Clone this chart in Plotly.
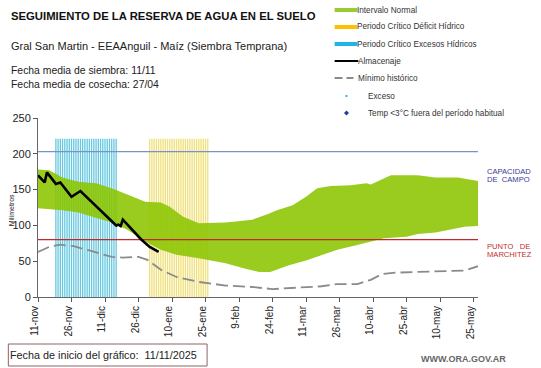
import plotly.graph_objects as go
import pandas as pd

# ---------------- data ----------------
band_upper_dates = ["2025-11-11", "2025-11-16", "2025-11-22", "2025-11-29", "2025-12-07", "2025-12-14",
                    "2025-12-21", "2025-12-29", "2026-01-05", "2026-01-09", "2026-01-15", "2026-01-22",
                    "2026-02-03", "2026-02-15", "2026-02-22", "2026-02-26", "2026-03-05", "2026-03-11",
                    "2026-03-16", "2026-03-22", "2026-03-31", "2026-04-07", "2026-04-09", "2026-04-18",
                    "2026-04-24", "2026-04-30", "2026-05-08", "2026-05-18", "2026-05-27"]
band_upper = [178, 177, 167, 161, 159, 152, 143, 133, 132, 126, 112, 103, 104, 108, 116, 121, 128, 140,
              152, 155, 156, 159, 157, 170, 170, 170, 167, 167, 162]

band_lower_dates = ["2025-11-11", "2025-11-22", "2025-11-29", "2025-12-07", "2025-12-14", "2025-12-21",
                    "2025-12-26", "2025-12-31", "2026-01-05", "2026-01-12", "2026-01-22", "2026-02-03",
                    "2026-02-11", "2026-02-18", "2026-02-23", "2026-03-03", "2026-03-11", "2026-03-18",
                    "2026-03-25", "2026-04-02", "2026-04-09", "2026-04-15", "2026-04-25", "2026-04-30",
                    "2026-05-08", "2026-05-15", "2026-05-21", "2026-05-27"]
band_lower = [124, 121, 118, 111, 104, 94, 84, 74, 66, 59, 54, 47, 40, 35, 35, 44, 51, 58, 66, 72, 77,
              82, 84, 88, 90, 94, 98, 99]

min_hist_dates = ["2025-11-11", "2025-11-16", "2025-11-21", "2025-11-27", "2025-12-04", "2025-12-14",
                  "2025-12-19", "2025-12-26", "2025-12-30", "2026-01-05", "2026-01-12", "2026-01-22",
                  "2026-02-03", "2026-02-15", "2026-02-24", "2026-03-03", "2026-03-11", "2026-03-18",
                  "2026-03-25", "2026-04-03", "2026-04-09", "2026-04-14", "2026-04-20", "2026-04-30",
                  "2026-05-15", "2026-05-21", "2026-05-27"]
min_hist = [63, 70, 73, 71, 65, 56, 55, 56, 52, 38, 28, 21, 16, 14, 11, 12, 14, 15, 18, 18, 24, 32, 34,
            35, 36, 37, 43]

almac_dates = ["2025-11-11", "2025-11-14", "2025-11-15", "2025-11-19", "2025-11-21", "2025-11-26",
               "2025-11-30", "2025-12-16", "2025-12-17", "2025-12-18", "2025-12-19", "2025-12-27",
               "2025-12-31", "2026-01-04"]
almacenaje = [170, 160, 174, 158, 160, 140, 148, 100, 101, 99, 108, 81, 70, 63]

exceso_period = ("2025-11-19", "2025-12-16")
deficit_period = ("2025-12-31", "2026-01-26")
stripe_top = 221

capacidad_campo = 203
punto_marchitez = 80

x_start, x_end = "2025-11-11", "2026-05-27"

tick_dates = ["2025-11-11", "2025-11-26", "2025-12-11", "2025-12-26", "2026-01-10", "2026-01-25",
              "2026-02-09", "2026-02-24", "2026-03-11", "2026-03-26", "2026-04-10", "2026-04-25",
              "2026-05-10", "2026-05-25"]
tick_labels = ["11-nov", "26-nov", "11-dic", "26-dic", "10-ene", "25-ene", "9-feb", "24-feb",
               "11-mar", "26-mar", "10-abr", "25-abr", "10-may", "25-may"]
y_ticks = [0, 50, 100, 150, 200, 250]

# ---------------- layout helpers ----------------
W, H = 541, 368
L, R, T, B = 33, 63, 118, 71
PW, PH = W - L - R, H - T - B
FONT = "Liberation Sans, Arial, sans-serif"


def px(x):
    return (x - L) / PW


def py(y):
    return (H - B - y) / PH


fig = go.Figure()


def stripes(period, color):
    days = pd.date_range(*period, freq="D")
    xs, ys = [], []
    for d in days:
        xs += [d, d, None]
        ys += [0, stripe_top, None]
    fig.add_trace(go.Scatter(x=xs, y=ys, mode="lines", line=dict(color=color, width=1.3),
                             hoverinfo="skip", connectgaps=False))


stripes(exceso_period, "rgb(100,200,224)")
stripes(deficit_period, "rgb(240,224,120)")

# green normal interval band
fig.add_trace(go.Scatter(x=band_lower_dates, y=band_lower, mode="lines",
                         line=dict(width=0, color="rgba(0,0,0,0)"), hoverinfo="skip"))
fig.add_trace(go.Scatter(x=band_upper_dates, y=band_upper, mode="lines", fill="tonexty",
                         fillcolor="rgba(139,197,0,0.88)", line=dict(width=0, color="rgba(0,0,0,0)"),
                         hoverinfo="skip"))

# reference lines
fig.add_trace(go.Scatter(x=[x_start, x_end], y=[capacidad_campo] * 2, mode="lines",
                         line=dict(color="#7893c8", width=1.2), hoverinfo="skip"))
fig.add_trace(go.Scatter(x=[x_start, x_end], y=[punto_marchitez] * 2, mode="lines",
                         line=dict(color="#c0282a", width=1.2), hoverinfo="skip"))

# minimum historic
fig.add_trace(go.Scatter(x=min_hist_dates, y=min_hist, mode="lines",
                         line=dict(color="#8a8a8a", width=1.8, dash="12px,5px"), hoverinfo="skip"))
# almacenaje
fig.add_trace(go.Scatter(x=almac_dates, y=almacenaje, mode="lines",
                         line=dict(color="black", width=2.6), hoverinfo="skip"))

fig.update_layout(
    width=W, height=H, margin=dict(l=L, r=R, t=T, b=B, pad=0),
    paper_bgcolor="white", plot_bgcolor="white", showlegend=False,
    font=dict(family=FONT, color="#222"),
    xaxis=dict(type="date", range=[x_start, x_end], tickvals=tick_dates, ticktext=tick_labels,
               tickangle=-90, tickfont=dict(size=10, color="#222"), ticks="outside", ticklen=4,
               tickcolor="#555", showline=True, linecolor="#666", linewidth=1, showgrid=False,
               zeroline=False, ticklabelshift=-3),
    yaxis=dict(range=[0, 250], tickvals=y_ticks, tickfont=dict(size=11, color="#222"),
               ticks="outside", ticklen=4, tickcolor="#555", showline=True, linecolor="#666",
               linewidth=1, showgrid=False, zeroline=False),
)

ann = []
shapes = []


def text(x, y, s, size, color="#222", bold=False, anchor="left", angle=0, family=FONT):
    ann.append(dict(x=px(x), y=py(y), xref="paper", yref="paper", text=("<b>%s</b>" % s) if bold else s,
                    showarrow=False, xanchor=anchor, yanchor="middle", textangle=angle,
                    font=dict(size=size, color=color, family=family)))


# header texts
text(4, 16, "SEGUIMIENTO DE LA RESERVA DE AGUA EN EL SUELO", 11.3, "#111", bold=True)
text(4, 46, "Gral San Martin - EEAAnguil - Maíz (Siembra Temprana)", 11, "#222")
text(4, 70, "Fecha media de siembra: 11/11", 10.4, "#222")
text(4, 84, "Fecha media de cosecha: 27/04", 10.4, "#222")

# y-axis title
text(6, 210, "Milimetros", 7, "#222", anchor="center", angle=-90)

# right labels
text(485, 171, "CAPACIDAD", 7.6, "#3a3a9a")
text(485, 179, "DE  CAMPO", 7.6, "#3a3a9a")
text(485, 246, "PUNTO   DE", 7.6, "#c03030")
text(485, 254, "MARCHITEZ", 7.6, "#c03030")

# custom legend
leg_x0, leg_x1 = 333, 356
leg_rows = [10, 27, 44, 61, 78, 96, 113]
for yy, col in zip(leg_rows[:3], ["#99cc33", "#ffc000", "#1fb5ea"]):
    shapes.append(dict(type="rect", xref="paper", yref="paper", x0=px(leg_x0), x1=px(leg_x1),
                       y0=py(yy + 2), y1=py(yy - 2), fillcolor=col, line=dict(width=0)))
shapes.append(dict(type="line", xref="paper", yref="paper", x0=px(leg_x0), x1=px(leg_x1 + 1),
                   y0=py(61), y1=py(61), line=dict(color="black", width=2)))
shapes.append(dict(type="line", xref="paper", yref="paper", x0=px(333), x1=px(341),
                   y0=py(78), y1=py(78), line=dict(color="#8a8a8a", width=2)))
shapes.append(dict(type="line", xref="paper", yref="paper", x0=px(345), x1=px(352),
                   y0=py(78), y1=py(78), line=dict(color="#8a8a8a", width=2)))
shapes.append(dict(type="rect", xref="paper", yref="paper", x0=px(344), x1=px(346),
                   y0=py(97), y1=py(95), fillcolor="#22b8e8", line=dict(width=0)))
shapes.append(dict(type="path", xref="paper", yref="paper",
                   path="M %f,%f L %f,%f L %f,%f L %f,%f Z" % (px(345), py(110.5), px(347.5), py(113),
                                                              px(345), py(115.5), px(342.5), py(113)),
                   fillcolor="#1f3f9f", line=dict(width=0)))
leg_texts = [(354, "Intervalo Normal"), (354, "Periodo Crítico Déficit Hídrico"),
             (354, "Periodo Crítico Excesos Hídricos"), (355, "Almacenaje"), (355, "Mínimo histórico"),
             (365, "Exceso"), (365, "Temp <3°C fuera del período habitual")]
for yy, (xx, s) in zip(leg_rows, leg_texts):
    text(xx, yy, s, 8.2, "#333")

# bottom box
shapes.append(dict(type="rect", xref="paper", yref="paper", x0=px(3), x1=px(204), y0=py(366), y1=py(344),
                   line=dict(color="#8c6464", width=1), fillcolor="rgba(0,0,0,0)"))
text(3, 355, "Fecha de inicio del gráfico:  11/11/2025", 10.8, "#222")
text(463, 359, "WWW.ORA.GOV.AR", 9, "#666", bold=True, anchor="center")

fig.update_layout(annotations=ann, shapes=shapes)
fig.write_html("out.html", config={"displayModeBar": False},
               post_script="document.body.style.margin='0';document.body.style.padding='0';")
